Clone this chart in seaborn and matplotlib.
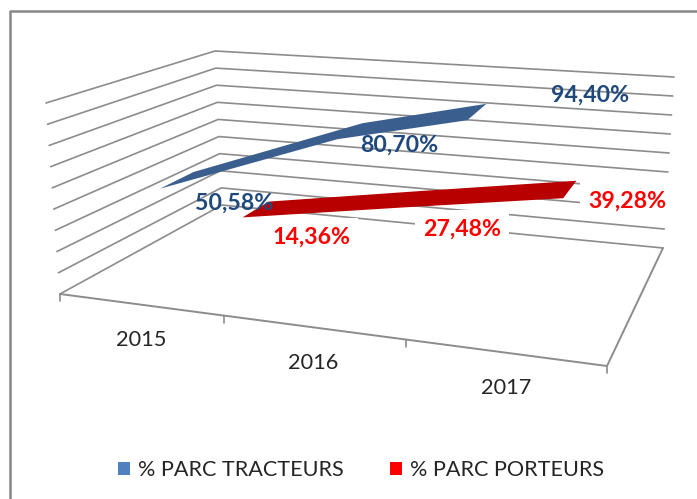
"""
plot.py
-------
3D-look line chart (Excel style ribbons) of the truck fleet share, drawn on a flat
axes. Values go through project(), which maps (position, depth, height) to pixels.
"""

import numpy as np
import pandas as pd
import matplotlib
matplotlib.use('Agg')
import matplotlib.pyplot as plt
from matplotlib.patches import Patch
import seaborn as sns

# ── DATA ─────────────────────────────────────────────────────────────────────
YEARS = ["2015", "2016", "2017"]
TRACTEURS = [50.58, 80.70, 94.40]
PORTEURS = [14.36, 27.48, 39.28]
SERIES_NAMES = ["% PARC TRACTEURS", "% PARC PORTEURS"]

# ── LAYOUT (pixels of the 697x499 picture) ───────────────────────────────────
FLOOR = {"fl": (60, 294), "fr": (607, 366), "bl": (222, 205), "br": (663, 248)}
UP = {"fl": (-14, -191), "fr": (16, -205), "bl": (-7, -154), "br": (11, -171)}
HEIGHT_PER_PCT = 0.0117
N_GRID = 10
CAT_POS = [1 / 6, 1 / 2, 5 / 6]
TICK_POS = [0, 0.30, 0.632, 1]
# the blue ribbon of the source stops short of its 2017 slot
TRACTEURS_SHIFT = [0.012, -0.005, -0.112]
PORTEURS_SHIFT = [0.0, 0.0, -0.008]
TRACTEURS_DEPTH = (0.05, 0.28)
PORTEURS_DEPTH = (0.64, 0.82)

BLUE_LABELS = [(234, 203), (399, 145), (590, 95)]
RED_LABELS = [(311, 237), (462, 229), (627, 201)]
YEAR_LABELS = [(141, 340), (313, 363), (506, 388)]

GRID_COLOR = "#8c8c8c"
FRAME_COLOR = "#868686"
BLUE_DARK = "#3a5f8f"
BLUE_TEXT = "#1f497d"
BLUE_LEGEND = "#4f81bd"
RED_DARK = "#b80000"
RED_TEXT = "#ff0000"
FONT = "Lato"
# ─────────────────────────────────────────────────────────────────────────────


def bilinear(corners, u, d):
    front = np.array(corners["fl"]) * (1 - u) + np.array(corners["fr"]) * u
    back = np.array(corners["bl"]) * (1 - u) + np.array(corners["br"]) * u
    return front * (1 - d) + back * d


def project(u, d, h):
    """position along the axis, depth (0 front, 1 back), height (1 = top of box)"""
    return bilinear(FLOOR, u, d) + h * bilinear(UP, u, d)


def ribbon(ax, values, shifts, depth, color):
    hs = np.array(values) * HEIGHT_PER_PCT
    us = np.array(CAT_POS) + np.array(shifts)
    front = [project(u, depth[0], h) for u, h in zip(us, hs)]
    back = [project(u, depth[1], h) for u, h in zip(us, hs)]
    pts = np.array(front + back[::-1])
    ax.fill(pts[:, 0], pts[:, 1], color=color, lw=0, zorder=3)


def grid_table():
    rows = []
    for i in range(N_GRID):
        h = i / (N_GRID - 1)
        for corner in [(0, 0), (0, 1), (1, 1)]:
            x, y = project(corner[0], corner[1], h)
            rows.append({"line": i, "px": x, "py": y})
    return pd.DataFrame(rows)


def main():
    sns.set_theme(style="white")
    plt.rcParams['font.family'] = [FONT, 'DejaVu Sans']

    fig = plt.figure(figsize=(6.97, 4.99), dpi=100)
    ax = fig.add_axes([0, 0, 1, 1])

    # ── wall grid ────────────────────────────────────────────────────────────
    sns.lineplot(data=grid_table(), x="px", y="py", units="line", estimator=None,
                 sort=False, color=GRID_COLOR, lw=1.2, legend=False, ax=ax, zorder=1)

    # ── floor edges + ticks ──────────────────────────────────────────────────
    for a, b in [((0, 0), (1, 0)), ((1, 0), (1, 1))]:
        p, q = project(*a, 0), project(*b, 0)
        ax.plot([p[0], q[0]], [p[1], q[1]], color=GRID_COLOR, lw=1.4, zorder=1)
    for u in TICK_POS:
        x, y = project(u, 0, 0)
        ax.plot([x, x], [y, y + 7], color=GRID_COLOR, lw=1.2, zorder=1)

    # ── ribbons ──────────────────────────────────────────────────────────────
    ribbon(ax, TRACTEURS, TRACTEURS_SHIFT, TRACTEURS_DEPTH, BLUE_DARK)
    ribbon(ax, PORTEURS, PORTEURS_SHIFT, PORTEURS_DEPTH, RED_DARK)

    # ── labels ───────────────────────────────────────────────────────────────
    fmt = lambda v: f"{v:.2f}%".replace(".", ",")
    for v, (x, y) in zip(TRACTEURS, BLUE_LABELS):
        ax.text(x, y, fmt(v), color=BLUE_TEXT, fontsize=16.7, fontweight="bold",
                ha="center", va="center", zorder=5)
    for v, (x, y) in zip(PORTEURS, RED_LABELS):
        ax.text(x, y, fmt(v), color=RED_TEXT, fontsize=16.7, fontweight="bold",
                ha="center", va="center", zorder=5,
                bbox=dict(fc="white", ec="none", pad=6))
    for year, (x, y) in zip(YEARS, YEAR_LABELS):
        ax.text(x, y, year, color="#262626", fontsize=15.7, ha="center", va="center")

    # ── frame (runs off the right and bottom of the picture) ─────────────────
    ax.plot([10, 10, 697], [499, 11, 11], color=FRAME_COLOR, lw=1.8, zorder=1)

    handles = [Patch(color=BLUE_LEGEND, lw=0, label=SERIES_NAMES[0]),
               Patch(color=RED_TEXT, lw=0, label=SERIES_NAMES[1])]
    ax.legend(handles=handles, ncol=2, frameon=False, fontsize=15.6,
              handlelength=0.55, handleheight=0.55, handletextpad=0.37, columnspacing=2.1,
              loc="center", bbox_to_anchor=(0.518, 0.058))

    ax.set_xlim(0, 697)
    ax.set_ylim(499, 0)
    ax.axis("off")
    plt.savefig("out.png", dpi=100)
    plt.close()


if __name__ == "__main__":
    main()
